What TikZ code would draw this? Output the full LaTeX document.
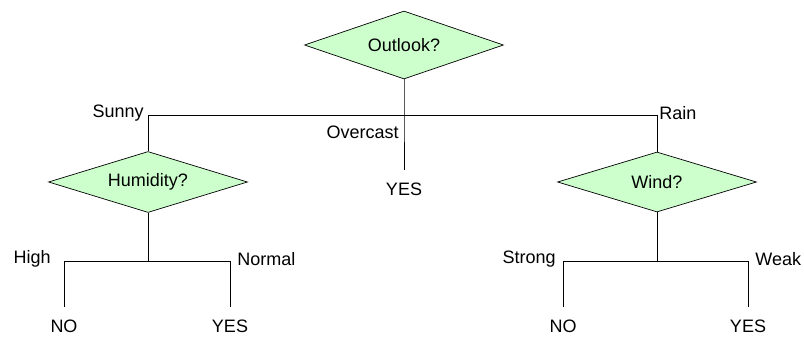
\documentclass[tikz,border=0pt]{standalone}
\usepackage{fontspec}
\setmainfont{Liberation Sans}
\usepackage{xcolor}
\usepackage{tikz}
\usetikzlibrary{shapes.geometric}

\definecolor{testfill}{RGB}{204,255,204}
\newcommand{\treefont}{\fontsize{18}{20}\selectfont}

\begin{document}
\begin{tikzpicture}[x=1pt, y=-1pt, line width=0.7pt,
        test/.style={diamond, draw, fill=testfill, inner sep=0pt, aspect=3, minimum width=199pt, font=\treefont},
        leaf/.style={anchor=north, inner xsep=0pt, inner ysep=12.5pt, font=\treefont},
        lab/.style={inner sep=0pt, font=\treefont},
    ]
        \useasboundingbox (0,0) rectangle (804,338);
        % decision nodes
        \node[test, minimum height=68pt] (outlook) at (404,45)  {Outlook?};
        \node[test, minimum height=61pt] (hum)     at (148,182) {Humidity?};
        \node[test, minimum height=60pt] (wind)    at (657,182) {Wind?};
        % branch corners
        \coordinate (ovc)    at (404,115);
        \coordinate (sunny)  at (148,115);
        \coordinate (rain)   at (657,115);
        \coordinate (humj)   at (148,261);
        \coordinate (high)   at (64,261);
        \coordinate (normal) at (230,261);
        \coordinate (windj)  at (657,261);
        \coordinate (strong) at (563,261);
        \coordinate (weak)   at (748,261);
        % leaves
        \node[leaf] (yes0) at (404,170) {YES};
        \node[leaf] (no1)  at (64,307)  {NO};
        \node[leaf] (yes1) at (230,307) {YES};
        \node[leaf] (no2)  at (563,307) {NO};
        \node[leaf] (yes2) at (748,307) {YES};
        % branch labels
        \node[lab, anchor=east] (lsunny)  at (144,113) {Sunny};
        \node[lab, anchor=west] (lrain)   at (659,113) {Rain};
        \node[lab, anchor=east] (lovc)    at (399,132) {Overcast};
        \node[lab, anchor=east] (lhigh)   at (51,259)  {High};
        \node[lab, anchor=west] (lnormal) at (237,259) {Normal};
        \node[lab, anchor=east] (lstrong) at (556,259) {Strong};
        \node[lab, anchor=west] (lweak)   at (755,259) {Weak};
        % connectors
        \draw (outlook.south) -- (ovc) -- (yes0);
        \draw (sunny) -- (rain);
        \draw (sunny) -- (hum.north);
        \draw (rain) -- (wind.north);
        \draw (hum.south) -- (humj);
        \draw (high) -- (normal);
        \draw (high) -- (no1);
        \draw (normal) -- (yes1);
        \draw (wind.south) -- (windj);
        \draw (strong) -- (weak);
        \draw (strong) -- (no2);
        \draw (weak) -- (yes2);
    \end{tikzpicture}
\end{document}
